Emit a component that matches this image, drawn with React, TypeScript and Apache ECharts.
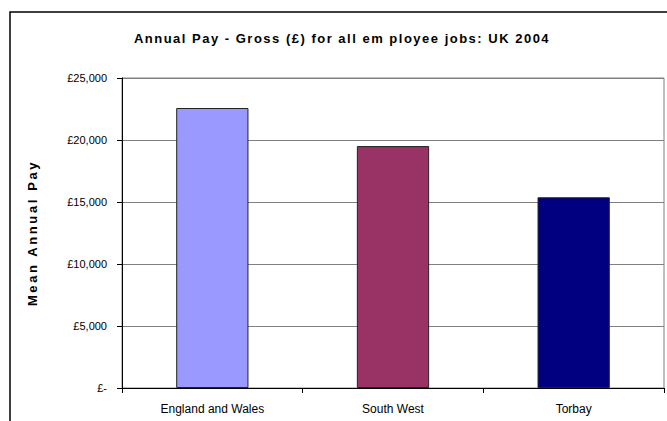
import React, { useEffect, useRef } from "react";
import * as echarts from "echarts";

const titleText = "Annual Pay - Gross (£) for all em ployee jobs: UK 2004";
const yAxisName = "Mean Annual Pay";
const categories = ["England and Wales", "South West", "Torbay"];
const payValues = [22580, 19510, 15380];
const barColors = ["#9999FF", "#993366", "#000080"];
const yTicks = [0, 5000, 10000, 15000, 20000, 25000];

function fmt(v: number): string {
  if (v === 0) return "£-";
  return "£" + v.toLocaleString("en-GB");
}

export default function App() {
  const ref = useRef<HTMLDivElement>(null);
  useEffect(() => {
    if (!ref.current) return;
    const chart = echarts.init(ref.current, null, { renderer: "svg" });
    chart.setOption({
      animation: false,
      backgroundColor: "#ffffff",
      textStyle: { fontFamily: "Arial, 'Liberation Sans', sans-serif" },
      graphic: [
        {
          type: "rect",
          shape: { x: 10, y: 12, width: 720, height: 480 },
          style: { fill: "none", stroke: "#000", lineWidth: 1.5 },
          z: 0,
        },
        {
          type: "text",
          x: 342,
          y: 38,
          style: {
            text: titleText,
            font: "bold 13px 'Liberation Sans', sans-serif",
            fill: "#000",
            align: "center",
            verticalAlign: "middle",
          },
        },
      ],
      grid: {
        left: 122,
        right: 3,
        top: 78,
        bottom: 33,
        show: true,
        borderColor: "#808080",
        borderWidth: 1,
        containLabel: false,
      },
      xAxis: {
        type: "category",
        data: categories,
        axisLine: { show: true, lineStyle: { color: "#000", width: 1 } },
        axisTick: { show: true, length: 5, lineStyle: { color: "#000" } },
        axisLabel: { color: "#000", fontSize: 12, margin: 15, fontFamily: "Arial" },
        splitLine: { show: false },
      },
      yAxis: {
        type: "value",
        min: yTicks[0],
        max: yTicks[yTicks.length - 1],
        interval: yTicks[1] - yTicks[0],
        name: yAxisName,
        nameLocation: "middle",
        nameRotate: 90,
        nameGap: 83,
        nameTextStyle: { fontFamily: "'Liberation Sans', serif", fontWeight: "bold", fontSize: 13, color: "#000" },
        axisLine: { show: true, lineStyle: { color: "#000", width: 1 } },
        axisTick: { show: true, length: 5, lineStyle: { color: "#000" } },
        axisLabel: { color: "#000", fontSize: 11, margin: 15, formatter: fmt, fontFamily: "Arial" },
        splitLine: { show: true, lineStyle: { color: "#808080", width: 1 } },
      },
      series: [
        {
          type: "bar",
          data: payValues.map((v, i) => ({
            value: v,
            itemStyle: { color: barColors[i], borderColor: "#222", borderWidth: 1 },
          })),
          barWidth: "40%",
        },
      ],
    });
    return () => chart.dispose();
  }, []);
  return (
    <>
      <style>{`
        text[style*="sans-serif"] { letter-spacing: 1.5px; }
        text[style*=", serif"] { letter-spacing: 2.6px; }
      `}</style>
      <div
        ref={ref}
        style={{ position: "absolute", left: 0, top: 0, width: 667, height: 421 }}
      />
    </>
  );
}
